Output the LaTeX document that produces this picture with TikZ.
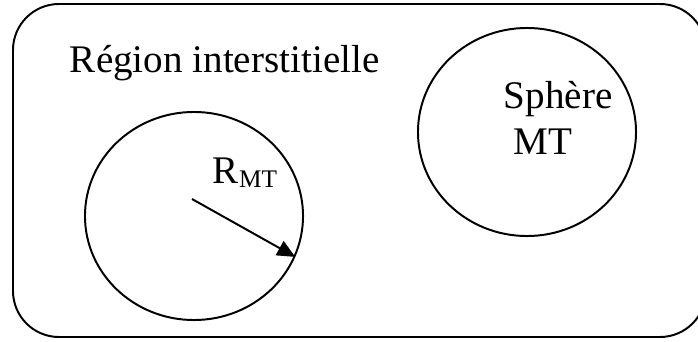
\documentclass[tikz,border=0pt]{standalone}
\usepackage{fontspec}
\setmainfont{Liberation Serif}
\usepackage{tikz}
\usetikzlibrary{arrows.meta,shapes.geometric}

\begin{document}
\begin{tikzpicture}[x=0.025cm, y=-0.025cm, line width=1.4pt,
  sphere/.style={draw, ellipse, inner sep=0pt, minimum width=5.45cm, minimum height=5.2cm},
  label/.style={inner sep=0pt, font=\fontsize{27.8}{32.7}\selectfont}]

\useasboundingbox (0,0) rectangle (698,342);

% cellule
\draw[rounded corners=1.15cm] (13,4) rectangle (706,337);
\node[label, anchor=base west] (reg) at (69,72) {Région interstitielle};

% spheres muffin-tin
\node[sphere] (sphL) at (194,216) {};
\node[sphere] (sphR) at (527,132) {};
\node[label, anchor=base west, align=left] (nomR) at (503,154) {Sphère\\\hspace*{0.25cm}MT};

% rayon
\coordinate (ctr) at (192,199);
\node[label, anchor=base west] (rmt) at (212,183)
  {R\raisebox{-0.1cm}{\fontsize{18}{18}\selectfont MT}};
\draw[-{Triangle[length=0.45cm, width=0.4cm]}] (ctr) -- (sphL.-22);

\end{tikzpicture}
\end{document}
